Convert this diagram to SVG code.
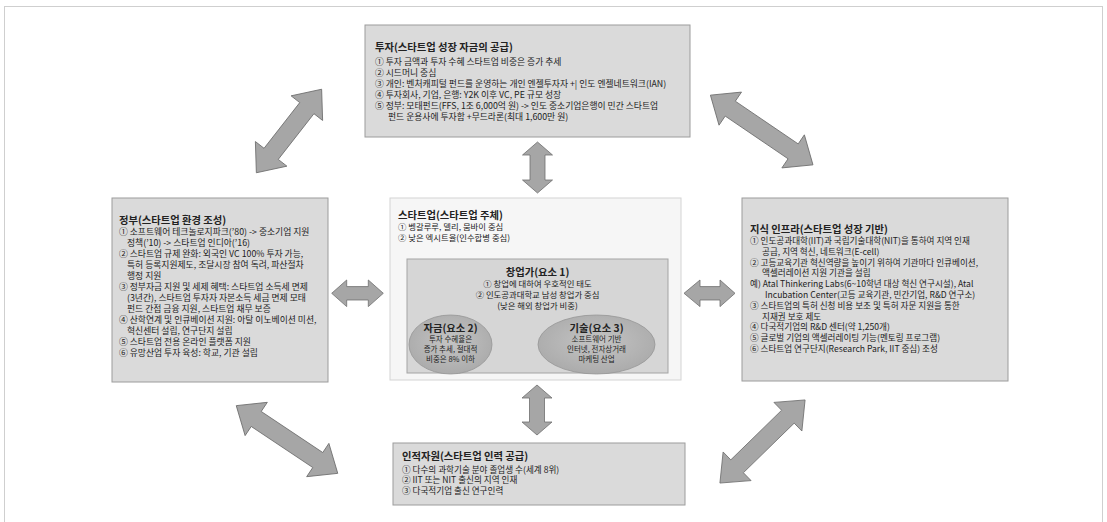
<svg xmlns="http://www.w3.org/2000/svg" width="1107" height="522" viewBox="0 0 1107 522">
<defs>
<style>
text{font-family:"Noto Sans CJK KR","Noto Sans",sans-serif;fill:#222;}
.t{font-size:10.3px;font-weight:bold;}
.b{font-size:8.8px;}
.s{font-size:8.6px;}
.c{font-size:8.4px;}
.e{font-size:7.5px;}
.et{font-size:10.3px;font-weight:bold;}
.box{fill:#dadada;stroke:#9c9c9c;stroke-width:1;}
.arr{fill:#a6a6a6;stroke:#6e6e6e;stroke-width:0.8;stroke-linejoin:miter;}
.mid{text-anchor:middle;}
</style>
<radialGradient id="eg" cx="50%" cy="45%" r="60%">
<stop offset="0" stop-color="#c4c4c4"/>
<stop offset="1" stop-color="#a9a9a9"/>
</radialGradient>
</defs>
<rect x="0" y="0" width="1107" height="522" fill="#ffffff"/>
<rect x="4.5" y="6.5" width="1098" height="520" fill="none" stroke="#cfcfcf" stroke-width="1"/>

<g id="connectors">
<polygon class="arr" transform="translate(289,131) rotate(-52)" points="-53,0 -29,-20 -29,-9 29,-9 29,-20 53,0 29,20 29,9 -29,9 -29,20"/>
<polygon class="arr" transform="translate(761.7,130) rotate(34.2)" points="-62,0 -38,-20 -38,-9 38,-9 38,-20 62,0 38,20 38,9 -38,9 -38,20"/>
<polygon class="arr" transform="translate(287,439.5) rotate(33.7)" points="-61,0 -37,-20 -37,-9 37,-9 37,-20 61,0 37,20 37,9 -37,9 -37,20"/>
<polygon class="arr" transform="translate(762.5,441.5) rotate(-44.3)" points="-59.5,0 -35.5,-20 -35.5,-9 35.5,-9 35.5,-20 59.5,0 35.5,20 35.5,9 -35.5,9 -35.5,20"/>
<polygon class="arr" transform="translate(537.5,167.5) rotate(90)" points="-25.5,0 -12.5,-15 -12.5,-7.5 12.5,-7.5 12.5,-15 25.5,0 12.5,15 12.5,7.5 -12.5,7.5 -12.5,15"/>
<polygon class="arr" transform="translate(537,410) rotate(90)" points="-25,0 -12,-15 -12,-7.5 12,-7.5 12,-15 25,0 12,15 12,7.5 -12,7.5 -12,15"/>
<polygon class="arr" transform="translate(357.5,293.3)" points="-25.8,0 -10.8,-13.3 -10.8,-6.7 10.8,-6.7 10.8,-13.3 25.8,0 10.8,13.3 10.8,6.7 -10.8,6.7 -10.8,13.3"/>
<polygon class="arr" transform="translate(709.5,293.3)" points="-25.5,0 -9.5,-13.3 -9.5,-6.7 10.5,-6.7 10.5,-13.3 25.5,0 10.5,13.3 10.5,6.7 -9.5,6.7 -9.5,13.3"/>
</g>

<g id="investment">
<rect class="box" x="365" y="25" width="325" height="112"/>
<text class="t" x="375" y="51">투자(스타트업 성장 자금의 공급)</text>
<text class="b" x="375" y="65">① 투자 금액과 투자 수혜 스타트업 비중은 증가 추세</text>
<text class="b" x="375" y="76">② 시드머니 중심</text>
<text class="b" x="375" y="87">③ 개인: 벤처캐피털 펀드를 운영하는 개인 엔젤투자자 +| 인도 엔젤네트워크(IAN)</text>
<text class="b" x="375" y="98">④ 투자회사, 기업, 은행: Y2K 이후 VC, PE 규모 성장</text>
<text class="b" x="375" y="109">⑤ 정부: 모태펀드(FFS, 1조 6,000억 원) -&gt; 인도 중소기업은행이 민간 스타트업</text>
<text class="b" x="388" y="120">펀드 운용사에 투자함 +무드라론(최대 1,600만 원)</text>
</g>

<g id="government">
<rect class="box" x="112" y="198" width="216" height="184"/>
<text class="t" x="119" y="224">정부(스타트업 환경 조성)</text>
<text class="b" x="119" y="235">① 소프트웨어 테크놀로지파크(’80) -&gt; 중소기업 지원</text>
<text class="b" x="127" y="246">정책(’10) -&gt; 스타트업 인디아(’16)</text>
<text class="b" x="119" y="257">② 스타트업 규제 완화: 외국인 VC 100% 투자 가능,</text>
<text class="b" x="127" y="268">특허 등록지원제도, 조달시장 참여 독려, 파산절차</text>
<text class="b" x="127" y="279">행정 지원</text>
<text class="b" x="119" y="290">③ 정부자금 지원 및 세제 혜택: 스타트업 소득세 면제</text>
<text class="b" x="127" y="301">(3년간), 스타트업 투자자 자본소득 세금 면제 모태</text>
<text class="b" x="127" y="312">펀드 간접 금융 지원, 스타트업 채무 보증</text>
<text class="b" x="119" y="323">④ 산학연계 및 인큐베이션 지원: 아탈 이노베이션 미션,</text>
<text class="b" x="127" y="334">혁신센터 설립, 연구단지 설립</text>
<text class="b" x="119" y="345">⑤ 스타트업 전용 온라인 플랫폼 지원</text>
<text class="b" x="119" y="356">⑥ 유망산업 투자 육성: 학교, 기관 설립</text>
</g>

<g id="startup">
<rect x="390" y="198" width="291" height="182" fill="#f6f6f6" stroke="#d4d4d4" stroke-width="1"/>
<text class="t" x="398" y="219">스타트업(스타트업 주체)</text>
<text class="c" x="398" y="230">① 벵갈루루, 델리, 뭄바이 중심</text>
<text class="c" x="398" y="241">② 낮은 엑시트율(인수합병 중심)</text>
</g>

<g id="entrepreneur">
<rect x="407" y="259" width="261" height="114" fill="#d6d6d6" stroke="#a4a4a4" stroke-width="1"/>
<text class="t mid" x="537.5" y="276">창업가(요소 1)</text>
<text class="c mid" x="537.5" y="287">① 창업에 대하여 우호적인 태도</text>
<text class="c mid" x="537.5" y="298">② 인도공과대학교 남성 창업가 중심</text>
<text class="c mid" x="537.5" y="309">(낮은 해외 창업가 비중)</text>
</g>

<g id="capital">
<ellipse cx="450.5" cy="344.5" rx="41.5" ry="29.5" fill="url(#eg)" stroke="#969696" stroke-width="0.8"/>
<text class="et mid" x="450.5" y="331.5">자금(요소 2)</text>
<text class="e mid" x="450.5" y="341.5">투자 수혜율은</text>
<text class="e mid" x="450.5" y="351.5">증가 추세, 절대적</text>
<text class="e mid" x="450.5" y="362">비중은 8% 이하</text>
</g>

<g id="technology">
<ellipse cx="596.5" cy="344.5" rx="58.5" ry="29.5" fill="url(#eg)" stroke="#969696" stroke-width="0.8"/>
<text class="et mid" x="596.5" y="331.5">기술(요소 3)</text>
<text class="e mid" x="596.5" y="341.5">소프트웨어 기반</text>
<text class="e mid" x="596.5" y="351.5">인터넷, 전자상거래</text>
<text class="e mid" x="596.5" y="362">마케팅 산업</text>
</g>

<g id="knowledge">
<rect class="box" x="742" y="198" width="266" height="183"/>
<text class="t" x="750" y="233">지식 인프라(스타트업 성장 기반)</text>
<text class="s" x="750" y="244">① 인도공과대학(IIT)과 국립기술대학(NIT)을 통하여 지역 인재</text>
<text class="s" x="762" y="254.8">공급, 지역 혁신, 네트워크(E-cell)</text>
<text class="s" x="750" y="265.6">② 고등교육기관 혁신역량을 높이기 위하여 기관마다 인큐베이션,</text>
<text class="s" x="762" y="276.4">액셀러레이션 지원 기관을 설립</text>
<text class="s" x="750" y="287.2">예) Atal Thinkering Labs(6~10학년 대상 혁신 연구시설), Atal</text>
<text class="s" x="765" y="298">Incubation Center(고등 교육기관, 민간기업, R&amp;D 연구소)</text>
<text class="s" x="750" y="308.8">③ 스타트업의 특허 신청 비용 보조 및 특허 자문 지원을 통한</text>
<text class="s" x="762" y="319.6">지재권 보호 제도</text>
<text class="s" x="750" y="330.4">④ 다국적기업의 R&amp;D 센터(약 1,250개)</text>
<text class="s" x="750" y="341.2">⑤ 글로벌 기업의 액셀러레이팅 기능(멘토링 프로그램)</text>
<text class="s" x="750" y="352">⑥ 스타트업 연구단지(Research Park, IIT 중심) 조성</text>
</g>

<g id="human">
<rect class="box" x="393" y="443" width="292" height="62"/>
<text class="t" x="402" y="460">인적자원(스타트업 인력 공급)</text>
<text class="s" x="402" y="472.5">① 다수의 과학기술 분야 졸업생 수(세계 8위)</text>
<text class="s" x="402" y="483.3">② IIT 또는 NIT 출신의 지역 인재</text>
<text class="s" x="402" y="494.1">③ 다국적기업 출신 연구인력</text>
</g>
</svg>
